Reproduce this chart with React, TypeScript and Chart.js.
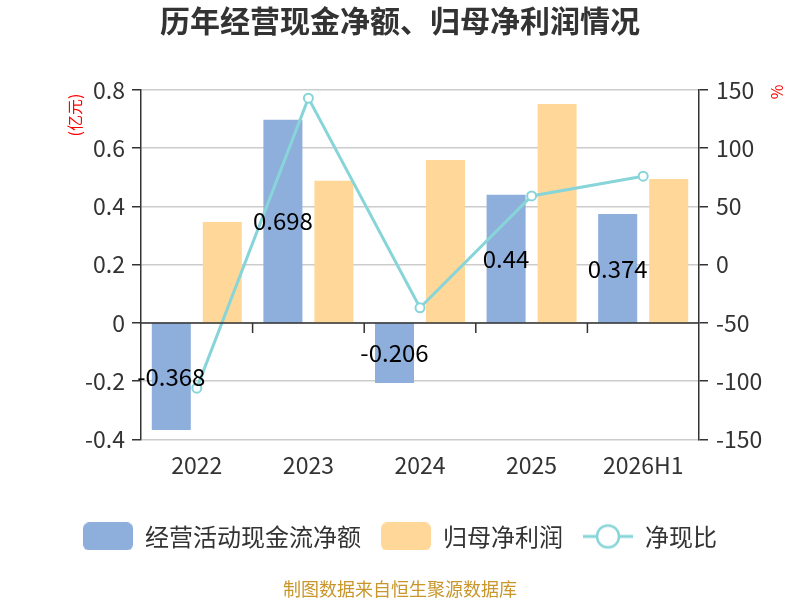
import { useEffect, useRef } from "react";
import { Chart, registerables } from "chart.js";

Chart.register(...registerables);

const years = ["2022", "2023", "2024", "2025", "2026H1"];
const cashFlow = [-0.368, 0.698, -0.206, 0.44, 0.374];
const netProfit = [0.347, 0.488, 0.56, 0.752, 0.494];
const cashRatio = [-106, 143, -37, 59, 76];
const legendNames = ["经营活动现金流净额", "归母净利润", "净现比"];

const FONT = '"Noto Sans CJK SC", "Noto Sans", sans-serif';
const BLUE = "#8eaedb";
const ORANGE = "#ffd899";
const TEAL = "#88d5d9";
const DARK = "#333333";

function boxIcon(color: string) {
  const c = document.createElement("canvas");
  c.width = 50;
  c.height = 28;
  const ctx = c.getContext("2d")!;
  ctx.fillStyle = color;
  ctx.beginPath();
  ctx.roundRect(0, 0, 50, 28, 6);
  ctx.fill();
  return c;
}

function lineIcon() {
  const c = document.createElement("canvas");
  c.width = 50;
  c.height = 28;
  const ctx = c.getContext("2d")!;
  ctx.strokeStyle = TEAL;
  ctx.lineWidth = 3;
  ctx.beginPath();
  ctx.moveTo(0, 14);
  ctx.lineTo(50, 14);
  ctx.stroke();
  ctx.fillStyle = "#fff";
  ctx.lineWidth = 2.5;
  ctx.beginPath();
  ctx.arc(25, 14, 11, 0, Math.PI * 2);
  ctx.fill();
  ctx.stroke();
  return c;
}

// zero axis with ticks, bar labels, axis units
const overlay = {
  id: "overlay",
  afterDatasetsDraw(chart: any) {
    const { ctx, chartArea, scales } = chart;
    const x = scales.x;
    const y0 = scales.y.getPixelForValue(0);
    ctx.save();
    ctx.strokeStyle = DARK;
    ctx.lineWidth = 1.5;
    ctx.beginPath();
    ctx.moveTo(chartArea.left, y0);
    ctx.lineTo(chartArea.right, y0);
    const step = (chartArea.right - chartArea.left) / years.length;
    for (let i = 1; i < years.length; i++) {
      const px = x.getPixelForValue(i) - step / 2;
      ctx.moveTo(px, y0);
      ctx.lineTo(px, y0 + 10);
    }
    ctx.stroke();

    const meta = chart.getDatasetMeta(0);
    ctx.fillStyle = "#000";
    ctx.font = `24px ${FONT}`;
    ctx.textAlign = "center";
    ctx.textBaseline = "middle";
    meta.data.forEach((bar: any, i: number) => {
      ctx.fillText(String(cashFlow[i]), bar.x, (bar.y + bar.base) / 2);
    });

    ctx.fillStyle = "#ff0000";
    ctx.font = `16px ${FONT}`;
    ctx.translate(75, 115);
    ctx.rotate(-Math.PI / 2);
    ctx.fillText("(亿元)", 0, 0);
    ctx.restore();

    ctx.save();
    ctx.fillStyle = "#ff0000";
    ctx.font = `16px ${FONT}`;
    ctx.textAlign = "center";
    ctx.textBaseline = "middle";
    ctx.translate(777, 92);
    ctx.rotate(-Math.PI / 2);
    ctx.fillText("%", 0, 0);
    ctx.restore();
  },
};

export default function App() {
  const canvasRef = useRef<HTMLCanvasElement>(null);
  const chartRef = useRef<Chart | null>(null);

  useEffect(() => {
    document.body.style.margin = "0";
    if (!canvasRef.current) return;
    if (chartRef.current) chartRef.current.destroy();

    const icons = [boxIcon(BLUE), boxIcon(ORANGE), lineIcon()];
    const fmt = (v: any) => String(+Number(v).toFixed(1));

    chartRef.current = new Chart(canvasRef.current, {
      type: "bar",
      data: {
        labels: years,
        datasets: [
          {
            type: "bar",
            label: legendNames[0],
            data: cashFlow,
            backgroundColor: BLUE,
            yAxisID: "y",
            order: 1,
            categoryPercentage: 0.914,
            barPercentage: 0.765,
          },
          {
            type: "bar",
            label: legendNames[1],
            data: netProfit,
            backgroundColor: ORANGE,
            yAxisID: "y",
            order: 1,
            categoryPercentage: 0.914,
            barPercentage: 0.765,
          },
          {
            type: "line",
            label: legendNames[2],
            data: cashRatio,
            borderColor: TEAL,
            borderWidth: 3,
            pointRadius: 4.5,
            pointBorderWidth: 2,
            pointBackgroundColor: "#fff",
            pointBorderColor: TEAL,
            tension: 0,
            yAxisID: "y1",
            order: 0,
          } as any,
        ],
      },
      options: {
        animation: false,
        responsive: true,
        maintainAspectRatio: false,
        layout: { padding: 0 },
        plugins: {
          tooltip: { enabled: false },
          title: {
            display: true,
            text: "历年经营现金净额、归母净利润情况",
            color: DARK,
            font: { family: FONT, size: 30, weight: "bold" },
            padding: { top: 3, bottom: 51 },
          },
          subtitle: {
            display: true,
            position: "bottom",
            text: "制图数据来自恒生聚源数据库",
            color: "#c8962a",
            font: { family: FONT, size: 18 },
            padding: { top: 20, bottom: 0 },
          },
          legend: {
            position: "bottom",
            labels: {
              usePointStyle: true,
              pointStyleWidth: 50,
              padding: 20,
              color: DARK,
              font: { family: FONT, size: 24 },
              generateLabels: () =>
                legendNames.map((text, i) => ({
                  text,
                  pointStyle: icons[i] as any,
                  datasetIndex: i,
                  fontColor: DARK,
                  fillStyle: "transparent",
                  strokeStyle: "transparent",
                  lineWidth: 0,
                  hidden: false,
                })),
            },
          },
        },
        scales: {
          x: {
            grid: { display: false, drawTicks: false },
            border: { display: false },
            ticks: { color: DARK, font: { family: FONT, size: 23 }, padding: 12 },
            afterFit: (s: any) => {
              s.height = 65;
            },
          },
          y: {
            position: "left",
            min: -0.4,
            max: 0.8,
            ticks: {
              stepSize: 0.2,
              color: DARK,
              font: { family: FONT, size: 23 },
              padding: 7,
              callback: fmt,
            },
            grid: { color: "#cccccc", lineWidth: 1.5, tickColor: DARK, tickLength: 9 },
            border: { display: true, color: DARK, width: 1.5 },
            afterFit: (s: any) => {
              s.width = 141;
            },
          },
          y1: {
            position: "right",
            min: -150,
            max: 150,
            ticks: {
              stepSize: 50,
              color: DARK,
              font: { family: FONT, size: 23 },
              padding: 8,
            },
            grid: { drawOnChartArea: false, tickColor: DARK, tickLength: 9, lineWidth: 1.5 },
            border: { display: true, color: DARK, width: 1.5 },
            afterFit: (s: any) => {
              s.width = 101;
            },
          },
        },
      },
      plugins: [overlay],
    });

    return () => {
      if (chartRef.current) {
        chartRef.current.destroy();
        chartRef.current = null;
      }
    };
  }, []);

  return (
    <div style={{ width: 800, height: 600, position: "relative" }}>
      <canvas ref={canvasRef} />
    </div>
  );
}
